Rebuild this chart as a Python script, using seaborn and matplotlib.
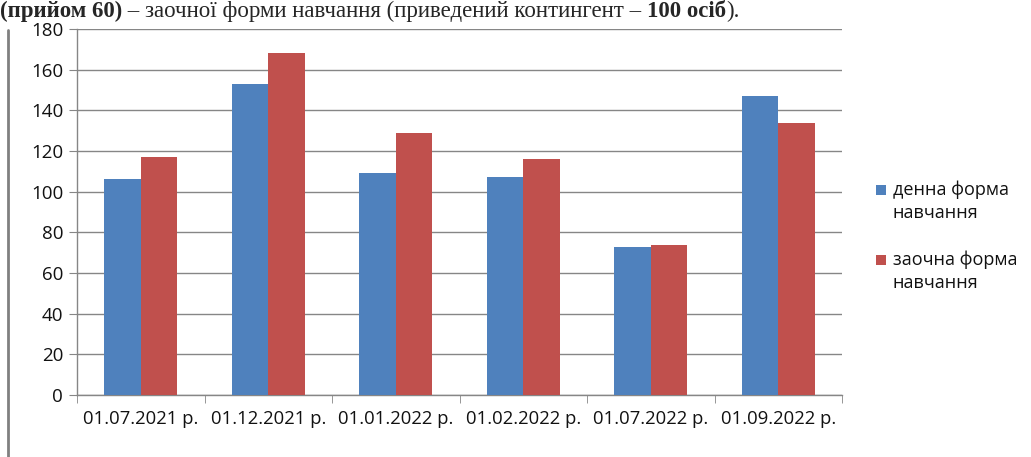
import pandas as pd
import seaborn as sns
import matplotlib.pyplot as plt
from matplotlib.lines import Line2D
from matplotlib.patches import Rectangle
from matplotlib.ticker import MultipleLocator

# chart data
dates = ['01.07.2021 р.', '01.12.2021 р.', '01.01.2022 р.',
         '01.02.2022 р.', '01.07.2022 р.', '01.09.2022 р.']
day_form = [106, 153, 109, 107, 73, 147]
extramural = [117, 168, 129, 116, 74, 134]
series_names = ['денна форма\nнавчання', 'заочна форма\nнавчання']
colors = ['#4F81BD', '#C0504D']

df = pd.DataFrame({
    'date': dates * 2,
    'value': day_form + extramural,
    'form': [series_names[0]] * len(dates) + [series_names[1]] * len(dates),
})

sns.set_style("white")
plt.rcParams['font.family'] = ['Open Sans', 'DejaVu Sans']

W, H = 1031, 457
fig = plt.figure(figsize=(W / 100, H / 100), dpi=100)
ax = fig.add_axes([0.0747, 0.1357, 0.742, 0.8009])

grid_col = '#868686'
sns.barplot(data=df, x='date', y='value', hue='form', ax=ax,
            palette=colors, width=0.57, gap=0, linewidth=0,
            saturation=1, errorbar=None, legend=False, zorder=3)

ax.set_ylim(0, 180)
ax.set_xlim(-0.5, len(dates) - 0.5)
ax.yaxis.set_major_locator(MultipleLocator(20))
ax.grid(axis='y', color=grid_col, linewidth=1, zorder=0)
ax.set_axisbelow(True)
ax.set_xlabel('')
ax.set_ylabel('')

for side in ['top', 'right']:
    ax.spines[side].set_visible(False)
for side in ['left', 'bottom']:
    ax.spines[side].set_color(grid_col)
    ax.spines[side].set_linewidth(1)

ax.tick_params(axis='y', length=6, color=grid_col, labelsize=13.5,
               labelcolor='#111111', pad=4, left=True)
ax.tick_params(axis='x', which='major', length=0, labelsize=13.3,
               labelcolor='#111111', pad=11)
ax.set_xticks([i - 0.5 for i in range(len(dates) + 1)], minor=True)
ax.tick_params(axis='x', which='minor', length=6, color=grid_col, bottom=True)

# legend: square marker aligned with the first line of each label
for i, (name, c) in enumerate(zip(series_names, colors)):
    y0 = 190 + i * 70
    fig.add_artist(Rectangle((876 / W, 1 - (y0 + 5) / H), 10 / W, 10 / H,
                             facecolor=c, edgecolor='none',
                             transform=fig.transFigure))
    for j, line in enumerate(name.split('\n')):
        fig.text(893 / W, 1 - (y0 + j * 23) / H, line, fontsize=13,
                 color='#111111', ha='left', va='center')

# caption line from the page above the chart, in pieces (bold / regular)
serif = ['Liberation Serif', 'DejaVu Serif']
pieces = [('(прийом 60)', 'bold'),
          (' – заочної форми навчання (приведений контингент – ', 'normal'),
          ('100 осіб', 'bold'), (').', 'normal')]
renderer = fig.canvas.get_renderer()
x = 0.0
for txt, weight in pieces:
    t = fig.text(x, 0.998, txt, family=serif, fontsize=16.5, weight=weight,
                 ha='left', va='top')
    bb = t.get_window_extent(renderer)
    x += bb.width / fig.bbox.width

fig.add_artist(Line2D([0.008, 0.008], [0.0, 0.935], color='#808080',
                      linewidth=2, transform=fig.transFigure))

fig.savefig('out.png', dpi=100)
